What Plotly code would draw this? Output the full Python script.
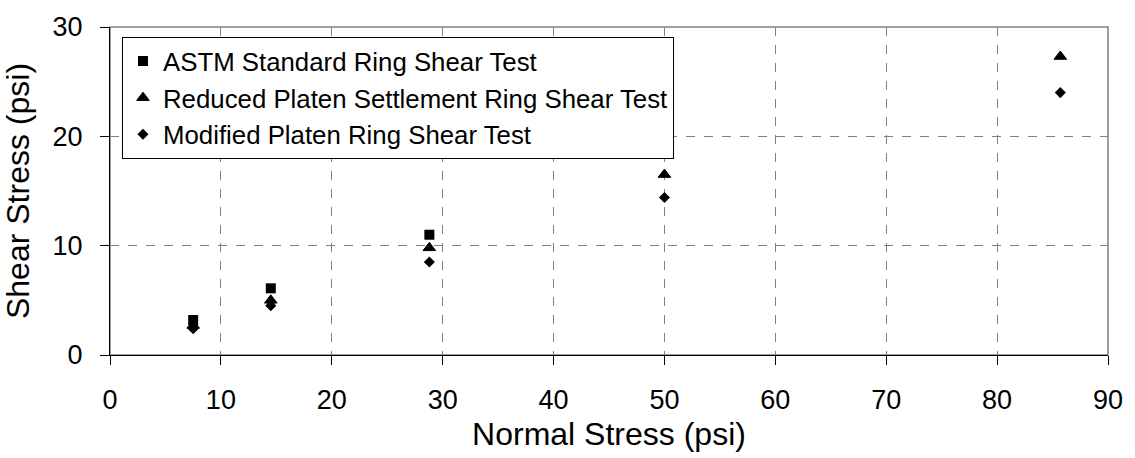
import plotly.graph_objects as go

astm_x = [7.5, 14.5, 28.8]
astm_y = [3.2, 6.1, 11.0]
reduced_x = [7.5, 14.5, 28.8, 50.0, 85.7]
reduced_y = [2.7, 5.0, 9.8, 16.5, 27.3]
modified_x = [7.5, 14.5, 28.8, 50.0, 85.7]
modified_y = [2.4, 4.5, 8.5, 14.4, 24.0]

names = ["ASTM Standard Ring Shear Test",
         "Reduced Platen Settlement Ring Shear Test",
         "Modified Platen Ring Shear Test"]
ticks = [0, 10, 20, 30, 40, 50, 60, 70, 80, 90]
yticks = [0, 10, 20, 30]

FONT = "Liberation Sans, Arial, sans-serif"

fig = go.Figure()
fig.add_trace(go.Scatter(x=astm_x, y=astm_y, mode="markers", name=names[0],
                         marker=dict(symbol="square", size=10, color="black")))
fig.add_trace(go.Scatter(x=reduced_x, y=reduced_y, mode="markers", name=names[1],
                         marker=dict(symbol="triangle-up", size=11, color="black",
                                     line=dict(color="black", width=1))))
fig.add_trace(go.Scatter(x=modified_x, y=modified_y, mode="markers", name=names[2],
                         marker=dict(symbol="diamond", size=8.5, color="black")))

fig.update_layout(
    width=1135, height=458,
    margin=dict(l=110, r=22, t=19, b=103),
    paper_bgcolor="white", plot_bgcolor="white",
    font=dict(family=FONT, size=27, color="black"),
    showlegend=True,
    legend=dict(x=0.012, y=0.970, xanchor="left", yanchor="top",
                bgcolor="white", bordercolor="black", borderwidth=1,
                font=dict(size=25.8), itemwidth=30),
    shapes=[dict(type="rect", xref="paper", yref="paper", x0=0, y0=0, x1=1, y1=1,
                 line=dict(color="#808080", width=1.5), layer="below")],
)
fig.update_xaxes(range=[0, 90], tickvals=ticks, showgrid=True, gridcolor="#808080",
                 griddash="dash", gridwidth=1, zeroline=False, showline=True,
                 linecolor="black", linewidth=1, ticks="outside", ticklen=9,
                 tickcolor="black", ticklabelstandoff=12,
                 title=dict(text="Normal Stress (psi)", standoff=8))
fig.update_yaxes(range=[0, 30], tickvals=yticks, showgrid=True, gridcolor="#808080",
                 griddash="dash", gridwidth=1, zeroline=False, showline=True,
                 linecolor="black", linewidth=1, ticks="outside", ticklen=9,
                 tickcolor="black", ticklabelstandoff=12,
                 title=dict(text="Shear Stress (psi)", standoff=16))

fig.write_html("out.html")
